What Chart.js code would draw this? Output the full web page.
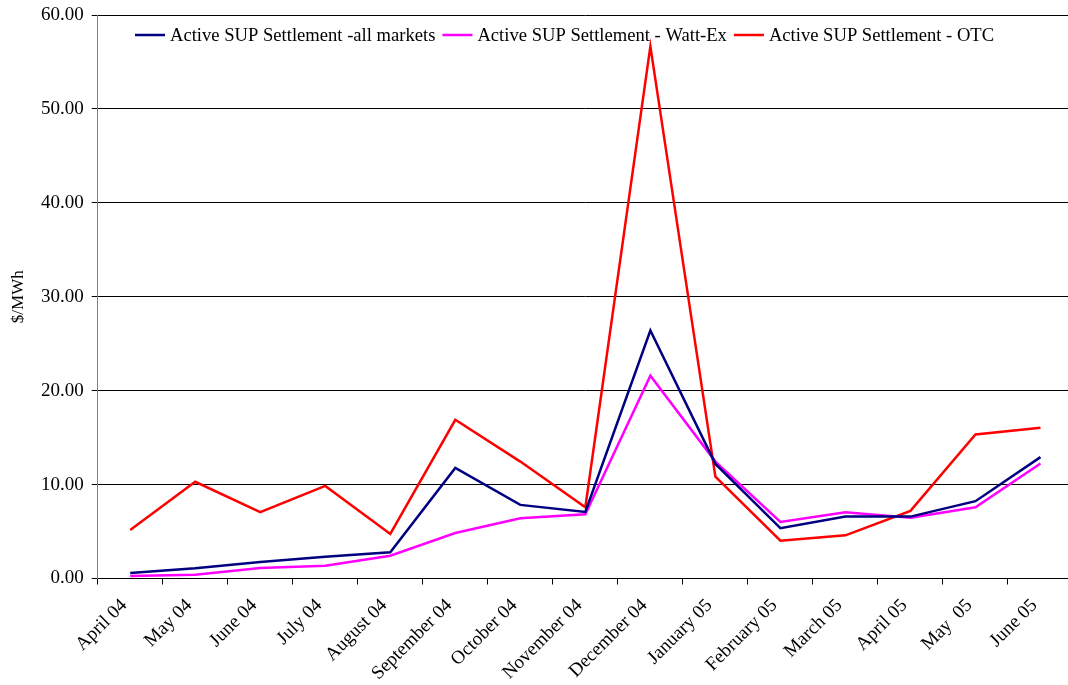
<!DOCTYPE html>
<html>
<head>
<meta charset="utf-8">
<script src="https://cdn.jsdelivr.net/npm/chart.js@4.4.1/dist/chart.umd.min.js"></script>
<style>
  html, body { margin: 0; padding: 0; background: #fff; overflow: hidden; }
  #wrap { width: 1080px; height: 685px; }
</style>
</head>
<body>
<div id="wrap"><canvas id="c" width="1080" height="685"></canvas></div>
<script>
const categories = ["April 04", "May 04", "June 04", "July 04", "August 04", "September 04",
  "October 04", "November 04", "December 04", "January 05", "February 05", "March 05",
  "April 05", "May  05", "June 05"];
const allMarkets = [0.59, 1.09, 1.76, 2.32, 2.79, 11.78, 7.84, 7.09, 26.4, 12.2, 5.35, 6.59, 6.59, 8.23, 12.92];
const wattEx     = [0.27, 0.41, 1.12, 1.37, 2.43, 4.85, 6.42, 6.84, 21.6, 12.45, 6.02, 7.06, 6.48, 7.59, 12.24];
const otc        = [5.17, 10.3, 7.06, 9.86, 4.74, 16.9, 12.45, 7.59, 56.66, 10.85, 4.03, 4.6, 7.2, 15.33, 16.04];
const seriesLabels = ["Active SUP Settlement -all markets", "Active SUP Settlement - Watt-Ex", "Active SUP Settlement - OTC"];
const seriesColors = ["#000080", "#FF00FF", "#FF0000"];
const yTitle = "$/MWh";

const FONT = "'Liberation Serif', 'Times New Roman', serif";
const FS = 19;

const legendPlugin = {
  id: 'insideLegend',
  afterDraw(chart) {
    const ctx = chart.ctx;
    ctx.save();
    ctx.font = "18.6px " + FONT;
    ctx.textBaseline = 'middle';
    let x = 135;
    const y = 35;
    chart.data.datasets.forEach(ds => {
      ctx.strokeStyle = ds.borderColor;
      ctx.lineWidth = 2.5;
      ctx.beginPath();
      ctx.moveTo(x, y);
      ctx.lineTo(x + 30, y);
      ctx.stroke();
      ctx.fillStyle = '#000';
      ctx.fillText(ds.label, x + 35, y + 1);
      x += 35 + ctx.measureText(ds.label).width + 7;
    });
    ctx.restore();
  }
};

new Chart(document.getElementById('c'), {
  type: 'line',
  data: {
    labels: categories,
    datasets: [
      { label: seriesLabels[0], data: allMarkets, borderColor: seriesColors[0] },
      { label: seriesLabels[1], data: wattEx, borderColor: seriesColors[1] },
      { label: seriesLabels[2], data: otc, borderColor: seriesColors[2] }
    ].map(d => Object.assign(d, { borderWidth: 2.5, pointRadius: 0, tension: 0, fill: false }))
  },
  options: {
    responsive: false,
    animation: false,
    layout: { padding: { top: 15, right: 7, left: 0, bottom: 0 } },
    plugins: { legend: { display: false }, tooltip: { enabled: false } },
    scales: {
      x: {
        offset: true,
        grid: { display: true, offset: true, drawOnChartArea: false, drawTicks: true, tickLength: 6, color: '#000' },
        border: { display: true, color: '#000', width: 1 },
        ticks: { color: '#000', font: { family: FONT, size: FS }, maxRotation: 45, minRotation: 45, autoSkip: false,
                 padding: 10, labelOffset: -6 },
        afterFit(s) { s.height = 106.5; }
      },
      y: {
        min: 0, max: 60,
        grid: { color: '#000', lineWidth: 1, tickLength: 6, drawTicks: true },
        border: { display: true, color: '#808080', width: 1 },
        ticks: { stepSize: 10, color: '#000', font: { family: FONT, size: FS }, padding: 8,
                 callback: v => Number(v).toFixed(2) },
        title: { display: true, text: yTitle, color: '#000', font: { family: FONT, size: 17 }, padding: { top: 8, bottom: 0 } },
        afterFit(s) { s.width = 97.7; s.paddingTop = 0; s.paddingBottom = 0; }
      }
    }
  },
  plugins: [legendPlugin]
});
</script>
</body>
</html>
